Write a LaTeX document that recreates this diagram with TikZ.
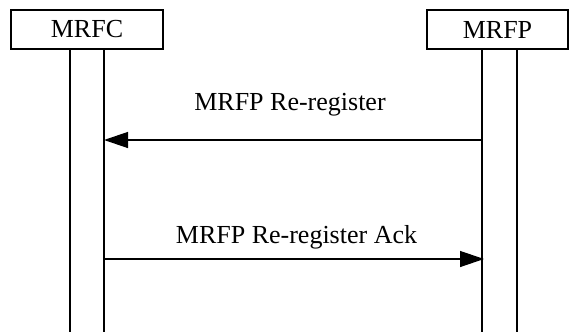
\documentclass[tikz,border=0pt]{standalone}
\usepackage{fontspec}
\setmainfont{Liberation Serif}
\usepackage{tikz}
\usetikzlibrary{positioning, arrows, arrows.meta}

\begin{document}
\begin{tikzpicture}[x=1pt,y=-1pt,line width=1.3pt,
  entbox/.style={draw,minimum height=39pt,inner sep=0pt,font=\fontsize{26}{30}\selectfont},
  msgtext/.style={anchor=base,inner sep=0pt,font=\fontsize{26}{30}\selectfont},
  msg/.style={-{Triangle[length=24pt,width=16pt]}}]
\useasboundingbox (0,0) rectangle (569,332);
% entity boxes
\node[entbox,minimum width=152pt] (mrfc) at (87,29.5) {MRFC};
\node[entbox,minimum width=141pt] (mrfp) at (497.5,29.5) {MRFP};

% lifelines (two lines each)
\foreach \x/\n in {70/ca,104/cb,482/pa,517/pb} {
  \coordinate (\n top) at (\x,49);
  \coordinate (\n bot) at (\x,332);
  \draw (\n top) -- (\n bot);
}

% messages
\coordinate (reg from) at (482,140);
\coordinate (reg to) at (104,140);
\draw[msg] (reg from) -- (reg to);
\node[msgtext] (reg) at (290,110) {MRFP Re-register};

\coordinate (ack from) at (104,259);
\coordinate (ack to) at (484,259);
\draw[msg] (ack from) -- (ack to);
\node[msgtext] (ack) at (296.5,243) {MRFP Re-register Ack};
\end{tikzpicture}
\end{document}
